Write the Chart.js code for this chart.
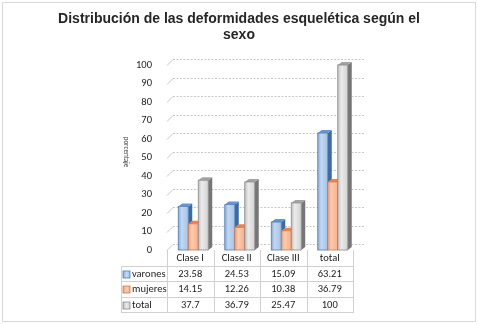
<!DOCTYPE html>
<html><head><meta charset="utf-8">
<script src="https://cdn.jsdelivr.net/npm/chart.js@4"></script>
<style>html,body{margin:0;padding:0;background:#fff}#wrap{width:478px;height:324px;position:relative}</style>
</head><body><div id="wrap"><canvas id="c"></canvas></div>
<script>
const titleLines = ['Distribución de las deformidades esquelética según el', 'sexo'];
const yAxisTitle = 'porcentaje';
const categories = ['Clase I', 'Clase II', 'Clase III', 'total'];
const seriesNames = ['varones', 'mujeres', 'total'];
const varones = [23.58, 24.53, 15.09, 63.21];
const mujeres = [14.15, 12.26, 10.38, 36.79];
const totales = [37.7, 36.79, 25.47, 100];
const yTicks = [0, 10, 20, 30, 40, 50, 60, 70, 80, 90, 100];

const palettes = [
  {front: ['#86acdc', '#c3d8f1', '#a4c2e8'], side: '#3d6aa3', top: '#6893cc', edge: '#4a7ebb'},
  {front: ['#f29e72', '#fccbb0', '#f6b08b'], side: '#bf5c2a', top: '#e38656', edge: '#d9763f'},
  {front: ['#bdbdbd', '#ebebeb', '#d2d2d2'], side: '#767676', top: '#a3a3a3', edge: '#8a8a8a'}
];
const FONT = 'Carlito, Lato, "Liberation Sans", sans-serif';
const DX = 4, DY = 3;

const deco = {
  id: 'deco',
  beforeDraw(chart) {
    const ctx = chart.ctx;
    ctx.save();
    ctx.fillStyle = '#fff';
    ctx.fillRect(0, 0, chart.width, chart.height);
    ctx.strokeStyle = '#d9d9d9';
    ctx.lineWidth = 1;
    ctx.strokeRect(2.5, 2.5, chart.width - 5, chart.height - 5);
    // title
    ctx.fillStyle = '#262626';
    ctx.font = 'bold 14px "Liberation Sans", Arial, sans-serif';
    ctx.textAlign = 'center';
    ctx.textBaseline = 'middle';
    titleLines.forEach((t, i) => ctx.fillText(t, 239, 19 + i * 16));
    // y axis title (vertical)
    ctx.font = '7px ' + FONT;
    ctx.fillStyle = '#404040';
    ctx.translate(126, 152);
    ctx.rotate(Math.PI / 2);
    ctx.fillText(yAxisTitle, 0, 0);
    ctx.restore();
  },
  beforeDatasetsDraw(chart) {
    const ctx = chart.ctx, ys = chart.scales.y, ca = chart.chartArea;
    ctx.save();
    ctx.lineWidth = 1;
    yTicks.forEach(v => {
      const y = Math.round(ys.getPixelForValue(v)) + 0.5;
      ctx.strokeStyle = '#c8c8c8';
      ctx.setLineDash([]);
      ctx.beginPath();
      ctx.moveTo(ca.left - 3, y);
      ctx.lineTo(ca.left + 3, y - 6);
      ctx.stroke();
      ctx.setLineDash([2, 1.5]);
      ctx.beginPath();
      ctx.moveTo(ca.left + 3, y - 6);
      ctx.lineTo(ca.right + 9, y - 6);
      ctx.stroke();
    });
    ctx.restore();
  },
  afterDatasetsDraw(chart) {
    const ctx = chart.ctx;
    ctx.save();
    chart.data.datasets.forEach((ds, d) => {
      const meta = chart.getDatasetMeta(d);
      const p = palettes[d];
      meta.data.forEach(el => {
        const w = el.width, l = el.x - w / 2, r = el.x + w / 2, y = el.y, b = el.base;
        ctx.fillStyle = p.side;
        ctx.beginPath();
        ctx.moveTo(r, y); ctx.lineTo(r + DX, y - DY); ctx.lineTo(r + DX, b - DY); ctx.lineTo(r, b);
        ctx.closePath(); ctx.fill();
        ctx.fillStyle = p.top;
        ctx.beginPath();
        ctx.moveTo(l, y); ctx.lineTo(l + DX, y - DY); ctx.lineTo(r + DX, y - DY); ctx.lineTo(r, y);
        ctx.closePath(); ctx.fill();
        const g = ctx.createLinearGradient(l, 0, r, 0);
        g.addColorStop(0, p.front[0]);
        g.addColorStop(0.35, p.front[1]);
        g.addColorStop(1, p.front[2]);
        ctx.fillStyle = g;
        ctx.fillRect(l, y, w, b - y);
        ctx.strokeStyle = p.edge;
        ctx.lineWidth = 0.8;
        ctx.strokeRect(l, y, w, b - y);
      });
    });
    ctx.restore();
  },
  afterDraw(chart) {
    const ctx = chart.ctx, xs = chart.scales.x, ca = chart.chartArea;
    const n = categories.length, colW = xs.width / n;
    const x0 = xs.left - 3, leftCol = 121;
    const top = ca.bottom, hdrB = top + 16, rowH = 15.4;
    const rowsB = [hdrB, hdrB + rowH, hdrB + 2 * rowH, hdrB + 3 * rowH];
    ctx.save();
    ctx.strokeStyle = '#d0d0d0';
    ctx.lineWidth = 1;
    for (let i = 0; i <= n; i++) {
      const x = Math.round(x0 + i * colW) + 0.5;
      ctx.beginPath(); ctx.moveTo(x, top); ctx.lineTo(x, rowsB[3]); ctx.stroke();
    }
    ctx.beginPath(); ctx.moveTo(leftCol + 0.5, hdrB); ctx.lineTo(leftCol + 0.5, rowsB[3]); ctx.stroke();
    rowsB.forEach(y => {
      const yy = Math.round(y) + 0.5;
      ctx.beginPath(); ctx.moveTo(leftCol, yy); ctx.lineTo(x0 + n * colW + 1, yy); ctx.stroke();
    });
    ctx.fillStyle = '#222';
    ctx.font = '10.5px ' + FONT;
    ctx.textAlign = 'center';
    ctx.textBaseline = 'middle';
    categories.forEach((c, i) => ctx.fillText(c, x0 + (i + 0.5) * colW, top + 8.5));
    chart.data.datasets.forEach((ds, d) => {
      const cy = rowsB[d] + rowH / 2 + 0.5;
      ds.data.forEach((v, i) => {
        ctx.fillStyle = '#222';
        ctx.textAlign = 'center';
        ctx.fillText(String(v), x0 + (i + 0.5) * colW, cy);
      });
      const p = palettes[d];
      const g = ctx.createLinearGradient(123, 0, 130, 0);
      g.addColorStop(0, p.front[0]); g.addColorStop(0.5, p.front[1]); g.addColorStop(1, p.front[2]);
      ctx.fillStyle = g;
      ctx.fillRect(123, Math.round(cy - 3.5), 7, 7);
      ctx.strokeStyle = p.edge; ctx.lineWidth = 0.8;
      ctx.strokeRect(123, Math.round(cy - 3.5), 7, 7);
      ctx.fillStyle = '#222';
      ctx.textAlign = 'left';
      ctx.fillText(ds.label, 132, cy);
    });
    ctx.restore();
  }
};

const seriesData = [varones, mujeres, totales];
new Chart(document.getElementById('c'), {
  type: 'bar',
  data: {
    labels: categories,
    datasets: seriesNames.map((name, i) => ({
      label: name,
      data: seriesData[i],
      backgroundColor: 'rgba(0,0,0,0)',
      borderWidth: 0,
      barPercentage: 1,
      categoryPercentage: 0.645
    }))
  },
  options: {
    responsive: true,
    maintainAspectRatio: false,
    animation: false,
    layout: {padding: {top: 65, bottom: 74, left: 120, right: 122}},
    plugins: {legend: {display: false}, title: {display: false}, tooltip: {enabled: false}},
    scales: {
      x: {display: false},
      y: {
        min: 0, max: 100,
        afterFit: s => { s.width = 50; },
        afterBuildTicks: s => { s.ticks = yTicks.map(v => ({value: v})); },
        grid: {display: false},
        border: {display: false},
        ticks: {padding: 10, color: '#222', font: {family: FONT, size: 10.5}}
      }
    }
  },
  plugins: [deco]
});
</script>
</body></html>
